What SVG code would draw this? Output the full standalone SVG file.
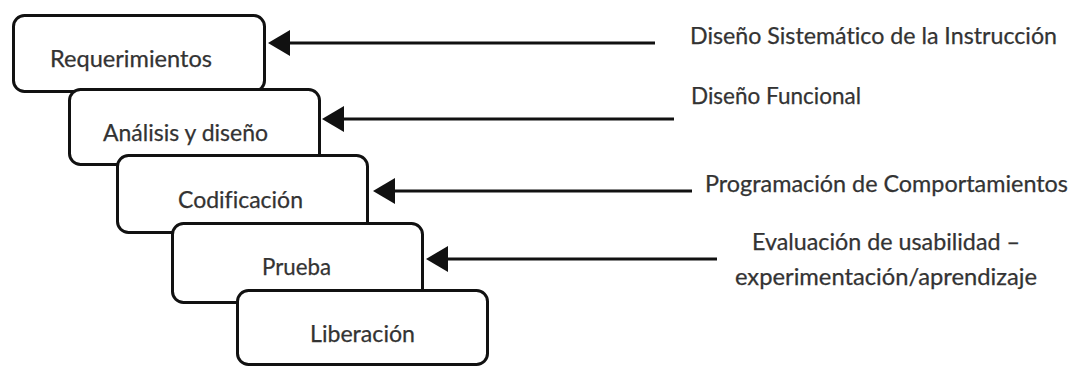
<svg xmlns="http://www.w3.org/2000/svg" width="1083" height="369" viewBox="0 0 1083 369">
  <defs>
    <style>
      .stage rect { fill: #ffffff; stroke: #111111; stroke-width: 3; }
      .stage text, .note { font-family: Lato, "Open Sans", "Liberation Sans", sans-serif; font-size: 22.5px; fill: #333333; stroke: #333333; stroke-width: 0.25px; font-variant-ligatures: none; }
      .link { stroke: #111111; stroke-width: 3; fill: none; marker-end: url(#head); }
    </style>
    <!-- filled triangular head; the line stops 10px short of the tip -->
    <marker id="head" viewBox="0 0 22 26" refX="12" refY="13" markerWidth="22" markerHeight="26" markerUnits="userSpaceOnUse" orient="auto">
      <path d="M0,0 L22,13 L0,26 Z" fill="#111111"/>
    </marker>
  </defs>

  <rect width="1083" height="369" fill="#ffffff"/>

  <!-- stacked phases, each one drawn over the previous -->
  <g id="requerimientos" class="stage">
    <rect x="13.5" y="15.5" width="251" height="76" rx="11"/>
    <text x="50" y="67" textLength="162" lengthAdjust="spacingAndGlyphs">Requerimientos</text>
  </g>
  <g id="analisis" class="stage">
    <rect x="69.5" y="89.5" width="250" height="75" rx="11"/>
    <text x="103" y="141" textLength="165" lengthAdjust="spacingAndGlyphs">Análisis y diseño</text>
  </g>
  <g id="codificacion" class="stage">
    <rect x="117.5" y="155.5" width="250" height="77" rx="11"/>
    <text x="178" y="208" textLength="125" lengthAdjust="spacingAndGlyphs">Codificación</text>
  </g>
  <g id="prueba" class="stage">
    <rect x="172.5" y="223.5" width="250" height="79" rx="11"/>
    <text x="262" y="275" textLength="69" lengthAdjust="spacingAndGlyphs">Prueba</text>
  </g>
  <g id="liberacion" class="stage">
    <rect x="237.5" y="290.5" width="250" height="74" rx="11"/>
    <text x="310" y="342" textLength="105" lengthAdjust="spacingAndGlyphs">Liberación</text>
  </g>

  <!-- connectors from each method note to its phase -->
  <g id="connectors">
    <line class="link" x1="655" y1="43" x2="278" y2="43"/>
    <line class="link" x1="674" y1="119" x2="332" y2="119"/>
    <line class="link" x1="692" y1="191" x2="383" y2="191"/>
    <line class="link" x1="717" y1="259" x2="436" y2="259"/>
  </g>

  <!-- method notes -->
  <g id="nota-instruccion">
    <text class="note" x="690" y="44" textLength="367" lengthAdjust="spacingAndGlyphs">Diseño Sistemático de la Instrucción</text>
  </g>
  <g id="nota-funcional">
    <text class="note" x="691" y="104" textLength="170" lengthAdjust="spacingAndGlyphs">Diseño Funcional</text>
  </g>
  <g id="nota-comportamientos">
    <text class="note" x="705" y="192" textLength="363" lengthAdjust="spacingAndGlyphs">Programación de Comportamientos</text>
  </g>
  <g id="nota-usabilidad">
    <text class="note" x="752" y="250" textLength="268" lengthAdjust="spacingAndGlyphs">Evaluación de usabilidad –</text>
    <text class="note" x="735" y="285" textLength="302" lengthAdjust="spacingAndGlyphs">experimentación/aprendizaje</text>
  </g>
</svg>
